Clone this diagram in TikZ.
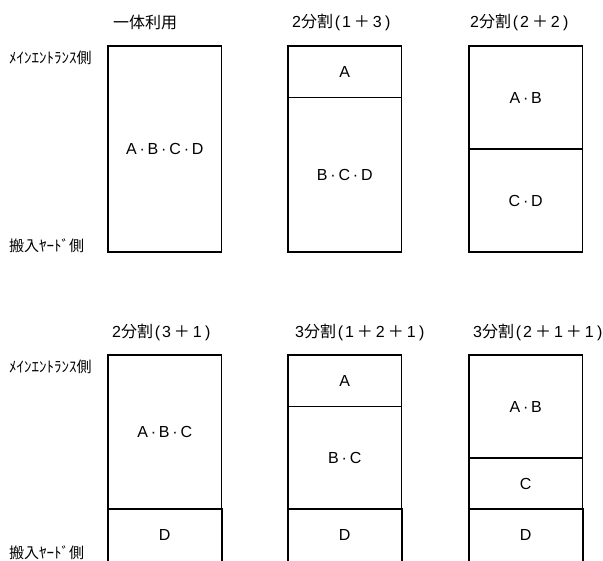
\documentclass[tikz,border=0pt]{standalone}
\usepackage{fontspec}
\setmainfont{Liberation Sans}
\newfontfamily\jp{Noto Sans CJK JP}
\newcommand{\mdot}{\makebox[11pt]{·}}
\newcommand{\lp}{\makebox[9pt]{(}}
\newcommand{\rp}{\makebox[12pt]{)}}
\newcommand{\pl}{{\jp\hspace{3pt}＋\hspace{3pt}}}
\begin{document}
\begin{tikzpicture}[x=1pt,y=-1pt,
  cellbox/.style={draw, line width=1.8pt, minimum width=113.5pt, inner sep=0pt, font=\fontsize{16}{18}\selectfont},
  opencell/.style={minimum width=113.5pt, inner sep=0pt, font=\fontsize{16}{18}\selectfont},
  edge/.style={line width=1.8pt},
  title/.style={anchor=west, inner sep=0pt, font=\fontsize{16}{18}\selectfont},
  side/.style={anchor=west, inner sep=0pt, font=\jp\fontsize{15}{17}\selectfont}]
\path[use as bounding box] (0,0) rectangle (603,561);

% side labels
\node[side] (s1) at (9,58) {ﾒｲﾝｴﾝﾄﾗﾝｽ側};
\node[side] (s2) at (9,246) {搬入ﾔｰﾄﾞ側};
\node[side] (s3) at (9,366.5) {ﾒｲﾝｴﾝﾄﾗﾝｽ側};
\node[side] (s4) at (9,553) {搬入ﾔｰﾄﾞ側};

% titles
\node[title] (t1) at (113,22) {\jp 一体利用};
\node[title] (t2) at (292,22) {2{\jp 分割}\lp 1\pl 3\rp};
\node[title] (t3) at (470,22) {2{\jp 分割}\lp 2\pl 2\rp};
\node[title] (t4) at (112,332) {2{\jp 分割}\lp 3\pl 1\rp};
\node[title] (t5) at (295,332) {3{\jp 分割}\lp 1\pl 2\pl 1\rp};
\node[title] (t6) at (473,332) {3{\jp 分割}\lp 2\pl 1\pl 1\rp};

% top row
\node[cellbox, minimum height=206pt] (a1) at (164.75,149) {A\mdot B\mdot C\mdot D};
\node[cellbox, minimum height=51.5pt] (b1) at (344.75,71.75) {A};
\node[cellbox, minimum height=154.5pt] (b2) at (344.75,174.75) {B\mdot C\mdot D};
\node[cellbox, minimum height=103pt] (c1) at (525.75,97.5) {A\mdot B};
\node[cellbox, minimum height=103pt] (c2) at (525.75,200.5) {C\mdot D};

% bottom row
\node[cellbox, minimum height=154.5pt] (d1) at (164.75,432.25) {A\mdot B\mdot C};
\node[opencell, minimum height=51.5pt] (d2) at (164.75,535.25) {D};
\node[cellbox, minimum height=51.5pt] (e1) at (344.75,380.75) {A};
\node[cellbox, minimum height=103pt] (e2) at (344.75,458) {B\mdot C};
\node[opencell, minimum height=51.5pt] (e3) at (344.75,535.25) {D};
\node[cellbox, minimum height=103pt] (f1) at (525.75,406.5) {A\mdot B};
\node[cellbox, minimum height=51.5pt] (f2) at (525.75,483.75) {C};
\node[opencell, minimum height=51.5pt] (f3) at (525.75,535.25) {D};

\draw[edge] (d2.south west) -- (d2.north west) -- (d2.north east) -- (d2.south east);
\draw[edge] (e3.south west) -- (e3.north west) -- (e3.north east) -- (e3.south east);
\draw[edge] (f3.south west) -- (f3.north west) -- (f3.north east) -- (f3.south east);
\end{tikzpicture}
\end{document}
